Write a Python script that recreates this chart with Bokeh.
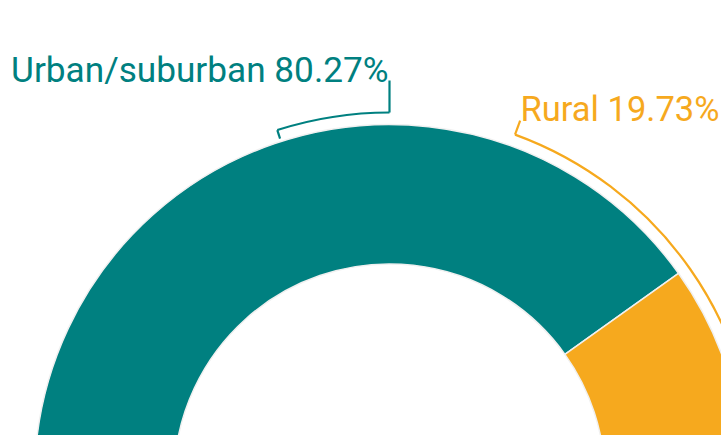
import math
from bokeh.plotting import figure
from bokeh.models import ColumnDataSource
from bokeh.core.properties import value
from bokeh.embed import file_html
from bokeh.resources import INLINE

# Data
categories = ["Urban/suburban", "Rural"]
percentages = [80.27, 19.73]
colors = ["#008080", "#F6A91E"]
labels = [f"{c} {v:.2f}%" for c, v in zip(categories, percentages)]

W, H = 721, 435
CX, CY = 389, -44          # donut centre (data units = pixels)
R_OUT, R_IN = 355, 215.5
R_BR = 367                 # bracket radius

# angles: Rural slice centred on 0 rad, Urban takes the rest
total = sum(percentages)
rural_half = percentages[1] / total * math.pi
starts = [rural_half, -rural_half]
ends = [rural_half + percentages[0] / total * 2 * math.pi, rural_half]

p = figure(width=W, height=H, x_range=(0, W), y_range=(0, H),
           output_backend="svg", toolbar_location=None,
           min_border=0, outline_line_color=None)
p.axis.visible = False
p.grid.visible = False
p.background_fill_color = "white"
p.border_fill_color = "white"

src = ColumnDataSource(dict(start=starts, end=ends, color=colors))
p.annular_wedge(x=CX, y=CY, inner_radius=R_IN, outer_radius=R_OUT,
                start_angle="start", end_angle="end", fill_color="color",
                line_color="#f0f0f0", line_width=1.5, source=src)

# Urban bracket
a0, a1 = math.radians(90), math.radians(107.8)
p.arc(x=CX, y=CY, radius=R_BR, start_angle=a0, end_angle=a1,
      line_color=colors[0], line_width=2.2)
p.segment(x0=[CX + R_BR * math.cos(a1)], y0=[CY + R_BR * math.sin(a1)],
          x1=[CX + (R_BR - 9) * math.cos(a1)], y1=[CY + (R_BR - 9) * math.sin(a1)],
          line_color=colors[0], line_width=2.2)
p.segment(x0=[CX], y0=[CY + R_BR], x1=[CX], y1=[H - 80],
          line_color=colors[0], line_width=2.2)
p.text(x=[CX - 1], y=[H - 69], text=[labels[0]], text_align="right",
       text_baseline="alphabetic", text_color=colors[0],
       text_font=value("Roboto"), text_font_size="35.2px")

# Rural bracket
b0, b1 = math.radians(-70), math.radians(70)
p.arc(x=CX, y=CY, radius=R_BR, start_angle=b0, end_angle=b1,
      line_color=colors[1], line_width=2.2)
p.segment(x0=[CX + R_BR * math.cos(b1)], y0=[CY + R_BR * math.sin(b1)],
          x1=[CX + (R_BR + 15) * math.cos(b1)], y1=[CY + (R_BR + 15) * math.sin(b1)],
          line_color=colors[1], line_width=2.2)
p.text(x=[520], y=[H - 108], text=[labels[1]], text_align="left",
       text_baseline="alphabetic", text_color=colors[1],
       text_font=value("Roboto"), text_font_size="34.5px")

open("out.html", "w").write(file_html(p, INLINE))
